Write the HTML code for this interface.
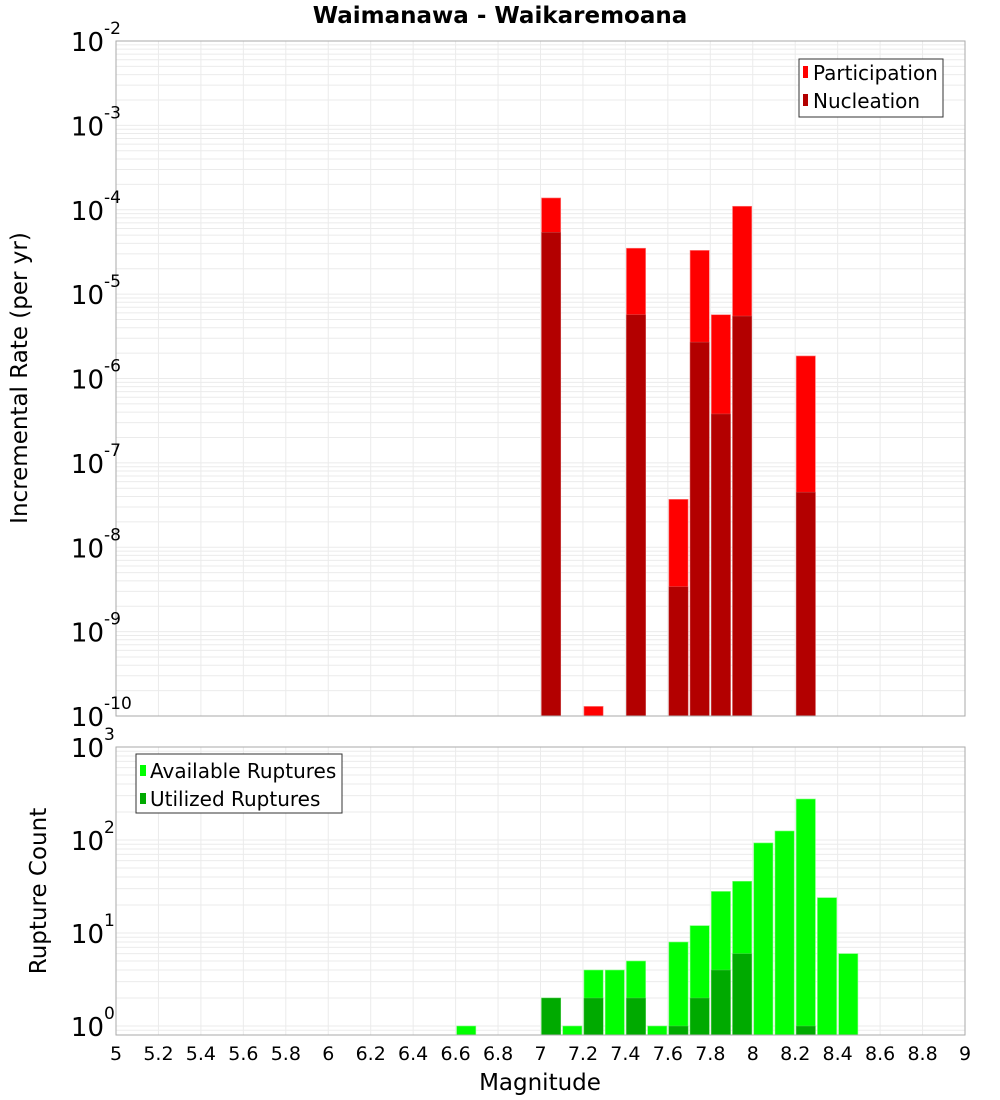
<!DOCTYPE html>
<html><head><meta charset="utf-8"><style>
html,body{margin:0;padding:0;background:#fff;}
svg{display:block;font-family:"DejaVu Sans","Liberation Sans",sans-serif;}
</style></head><body>
<svg id="chart" width="1000" height="1100" viewBox="0 0 1000 1100">
<text x="500" y="23" text-anchor="middle" font-size="23" font-weight="bold">Waimanawa - Waikaremoana</text>
<g id="gtop"></g><g id="gbot"></g><g id="xax"></g>
<text transform="translate(27,378) rotate(-90)" text-anchor="middle" font-size="23">Incremental Rate (per yr)</text>
<text transform="translate(46,891) rotate(-90)" text-anchor="middle" font-size="23">Rupture Count</text>
<text x="540" y="1090" text-anchor="middle" font-size="23">Magnitude</text>
<g id="legends">
<g>
<rect x="799" y="59" width="144" height="58" fill="#fff" stroke="#333" stroke-width="1"/>
<rect x="803" y="66" width="5" height="12" fill="#ff0000"/>
<text x="813" y="80" font-size="20">Participation</text>
<rect x="803" y="94" width="5" height="12" fill="#b30000"/>
<text x="813" y="108" font-size="20">Nucleation</text>
</g>
<g>
<rect x="136" y="754" width="206" height="59" fill="#fff" stroke="#333" stroke-width="1"/>
<rect x="140" y="765" width="6" height="11" fill="#00ff00"/>
<text x="150" y="778" font-size="20">Available Ruptures</text>
<rect x="140" y="793" width="6" height="11" fill="#00aa00"/>
<text x="150" y="806" font-size="20">Utilized Ruptures</text>
</g>
</g>
</svg>
<script>
const rateMags=[7.0,7.2,7.4,7.6,7.7,7.8,7.9,8.2];
const participation=[1.38e-4,1.3e-10,3.5e-5,3.7e-8,3.3e-5,5.7e-6,1.1e-4,1.85e-6];
const nucleation=[5.4e-5,0,5.7e-6,3.4e-9,2.7e-6,3.8e-7,5.5e-6,4.5e-8];
const countMags=[6.6,7.0,7.1,7.2,7.3,7.4,7.5,7.6,7.7,7.8,7.9,8.0,8.1,8.2,8.3,8.4];
const available=[1,2,1,4,4,5,1,8,12,28,36,93,125,276,24,6];
const utilized=[0,2,0,2,0,2,0,1,2,4,6,0,0,1,0,0];
const xTicks=[5,5.2,5.4,5.6,5.8,6,6.2,6.4,6.6,6.8,7,7.2,7.4,7.6,7.8,8,8.2,8.4,8.6,8.8,9];
const topExps=[-2,-3,-4,-5,-6,-7,-8,-9,-10];
const botExps=[3,2,1,0];

const NS="http://www.w3.org/2000/svg";
const X0=116,X1=965;
const xS=m=>X0+(m-5)/4*(X1-X0);
const T0=41,T1=716,yTop=v=>T0+(-2-Math.log10(v))*(T1-T0)/8;
const B0=747,B1=1035,BDEC=93,yBot=v=>1026-Math.log10(v)*BDEC;
function mk(p,tag,a){const e=document.createElementNS(NS,tag);for(const k in a)e.setAttribute(k,a[k]);p.appendChild(e);return e;}
const gTop=document.getElementById('gtop'),gBot=document.getElementById('gbot'),xax=document.getElementById('xax');

function panel(g,y0,y1,yf,lo,hi,name){
  const bg=mk(g,'rect',{x:X0,y:y0,width:X1-X0,height:y1-y0,fill:'#fff'});
  
  
  for(let e=lo;e<hi;e++)for(let k=1;k<10;k++){const yy=yf(k*Math.pow(10,e));if(yy<y0||yy>y1)continue;
    mk(g,'line',{x1:X0,x2:X1,y1:yy,y2:yy,stroke:'#ebebeb','stroke-width':1});}
  xTicks.forEach(t=>mk(g,'line',{x1:xS(t),x2:xS(t),y1:y0,y2:y1,stroke:'#ebebeb','stroke-width':1}));
}
panel(gTop,T0,T1,yTop,-10,-2,'rate');
panel(gBot,B0,B1,yBot,-1,3,'count');

const bw=(X1-X0)/40;
rateMags.forEach((m,i)=>{
  const bx=xS(m)+1,w=bw-2;
  const p=participation[i];
  if(p>0){const yy=yTop(p);const r=mk(gTop,'rect',{x:bx,y:yy,width:w,height:T1-yy,fill:'#ff0000',stroke:'#ff8080','stroke-width':0.6});
    
    }
  const n=nucleation[i];
  if(n>0){const yy=yTop(n);const r=mk(gTop,'rect',{x:bx,y:yy,width:w,height:T1-yy,fill:'#b30000',stroke:'#cc6666','stroke-width':0.4});
    
    }
});
countMags.forEach((m,i)=>{
  const bx=xS(m)+1,w=bw-2;
  const a=available[i];
  if(a>0){const yy=yBot(a);const r=mk(gBot,'rect',{x:bx,y:yy,width:w,height:B1-yy,fill:'#00ff00',stroke:'#80ff80','stroke-width':0.6});
    
    }
  const u=utilized[i];
  if(u>0){const yy=yBot(u);const r=mk(gBot,'rect',{x:bx,y:yy,width:w,height:B1-yy,fill:'#00aa00',stroke:'#66cc66','stroke-width':0.4});
    
    }
});
mk(gTop,'rect',{x:X0,y:T0,width:X1-X0,height:T1-T0,fill:'none',stroke:'#aaa','stroke-width':1});
mk(gBot,'rect',{x:X0,y:B0,width:X1-X0,height:B1-B0,fill:'none',stroke:'#aaa','stroke-width':1});

function ylab(g,e,yy,name){
  const t=mk(g,'text',{x:104,y:yy+10,'text-anchor':'end','font-size':26});
  
  
  t.textContent='10';
  const s=mk(g,'text',{x:104,y:yy-7,'font-size':17});
  
  
  s.textContent=String(e);
}
topExps.forEach(e=>ylab(gTop,e,yTop(Math.pow(10,e)),'rate-y-tick'));
botExps.forEach(e=>ylab(gBot,e,yBot(Math.pow(10,e)),'count-y-tick'));
xTicks.forEach(t=>{
  const tx=mk(xax,'text',{x:xS(t),y:1060,'text-anchor':'middle','font-size':19});
  
  
  tx.textContent=String(t);
});
</script>
</body></html>
